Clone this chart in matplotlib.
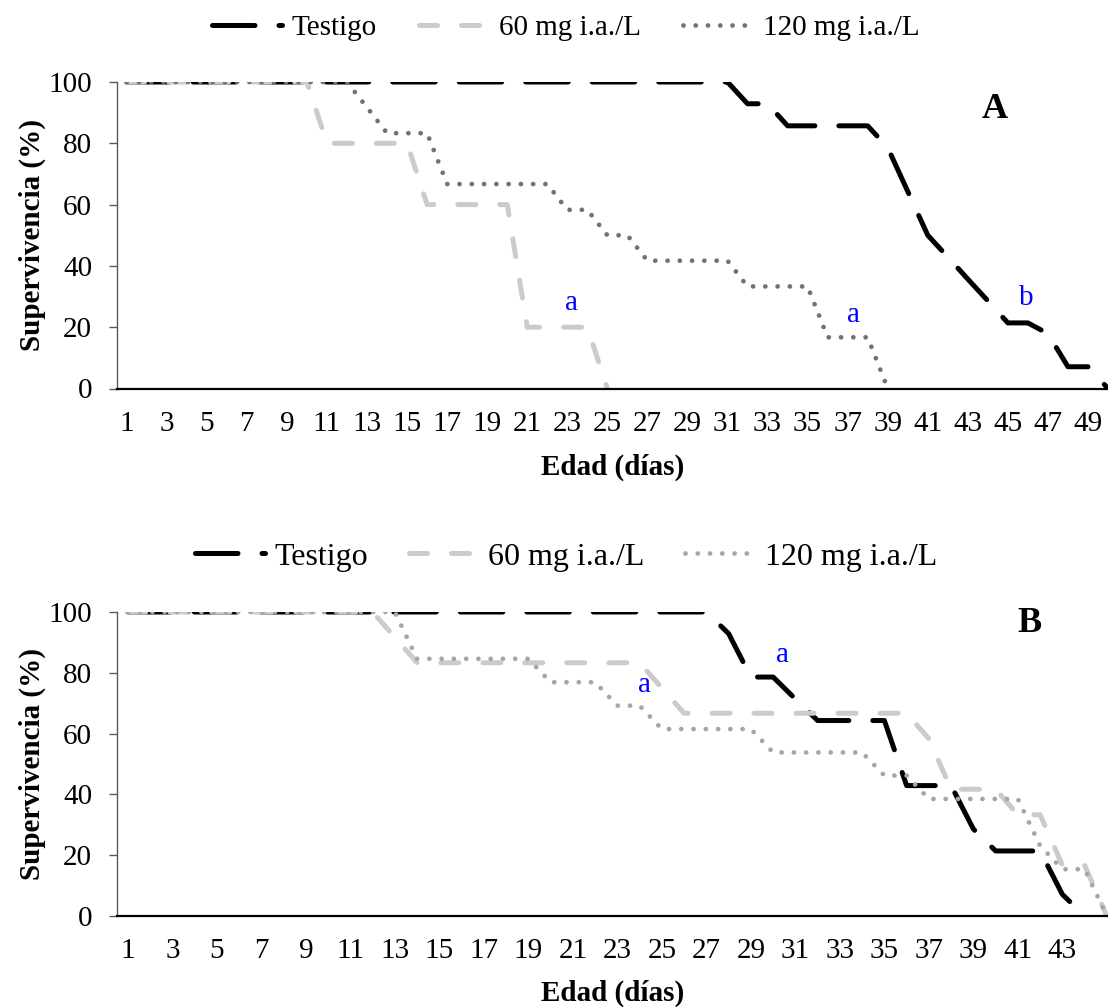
import matplotlib
matplotlib.use("Agg")
import matplotlib.pyplot as plt
from matplotlib.lines import Line2D

plt.rcParams['font.family'] = ['Liberation Serif', 'DejaVu Serif']
plt.rcParams['lines.scale_dashes'] = False

# ---------------- data ----------------
series_labels = ["Testigo", "60 mg i.a./L", "120 mg i.a./L"]

days_A = list(range(1, 51))
testigo_A = [100]*31 + [92.9, 92.9] + [85.7]*5 + [78.6, 64.3, 50.0, 42.9, 35.7, 28.6, 21.4, 21.4, 17.9, 7.1, 7.1, 0.0]
mg60_A = [100]*10 + [80]*5 + [60]*5 + [20]*4 + [0]
mg120_A = [100]*12 + [91.7] + [83.3]*3 + [66.7]*6 + [58.3]*2 + [50.0]*2 + [41.7]*5 + [33.3]*4 + [16.7]*3 + [0]

days_B = list(range(1, 46))
testigo_B = [100]*27 + [92.9] + [78.6]*2 + [71.4] + [64.3]*4 + [42.9]*3 + [28.6] + [21.4]*3 + [7.1, 0.0]
mg60_B = [100]*12 + [91.7] + [83.3]*11 + [75.0] + [66.7]*11 + [58.3] + [41.7]*3 + [33.3]*2 + [16.7]*2 + [0]
mg120_B = [100]*13 + [84.6]*6 + [76.9]*3 + [69.2]*2 + [61.5]*5 + [53.8]*5 + [46.2]*2 + [38.5]*5 + [23.1] + [15.4]*2 + [0]

xticks_A = list(range(1, 50, 2))
xticks_B = list(range(1, 44, 2))
yticks = [0, 20, 40, 60, 80, 100]

# ---------------- styling ----------------
W, H = 1108, 1007
fig = plt.figure(figsize=(W/100, H/100), dpi=100)
px = 0.72  # points per pixel

lw = 5.0*px
st_testigo = dict(color='black', lw=lw, dashes=(42.5*px, 24*px), dash_capstyle='round', solid_joinstyle='round')
st_60 = dict(color='#CBCBCB', lw=lw, dashes=(18*px, 24*px), dash_capstyle='round')
st_120A = dict(color='#767171', lw=4.8*px, dashes=(0.01, 12.25*px), dash_capstyle='round')
st_120B = dict(color='#A6A6A6', lw=4.8*px, dashes=(0.01, 12.25*px), dash_capstyle='round')

FS = 21

def setup(ax, xt, xmax, xlabel_y):
    ax.set_xlim(0.5, xmax)
    ax.set_ylim(0, 100)
    ax.set_xticks(xt)
    ax.set_xticklabels([str(v) for v in xt])
    ax.set_yticks(yticks)
    ax.spines['top'].set_visible(False)
    ax.spines['right'].set_visible(False)
    ax.spines['left'].set_color('#595959')
    ax.spines['left'].set_linewidth(1.0)
    ax.spines['bottom'].set_color('black')
    ax.spines['bottom'].set_linewidth(1.6)
    ax.tick_params(axis='y', direction='out', length=8*px, width=1.0, color='#595959',
                   labelsize=FS, pad=12)
    ax.tick_params(axis='x', length=0, labelsize=FS, pad=16)
    ax.set_ylabel("Supervivencia (%)", fontsize=FS, fontweight='bold')
    ax.yaxis.set_label_coords(-0.071, 0.5)
    ax.set_xlabel("Edad (días)", fontsize=FS, fontweight='bold', va='top')
    ax.xaxis.set_label_coords(0.5, xlabel_y)
    for lab in ax.get_xticklabels() + ax.get_yticklabels():
        lab.set_color('black')

l0 = 116.7/W
axA = fig.add_axes([l0, 1-388.5/H, 1-l0, (388.5-82)/H])
axB = fig.add_axes([l0, 1-916/H, 1-l0, (916-612)/H])

axA.plot(days_A[:len(testigo_A)], testigo_A, **st_testigo)
axA.plot(days_A[:len(mg60_A)], mg60_A, **st_60)
axA.plot(days_A[:len(mg120_A)], mg120_A, **st_120A)
setup(axA, xticks_A, 50.0, -0.214)

axB.plot(days_B[:len(testigo_B)], testigo_B, **st_testigo)
axB.plot(days_B[:len(mg60_B)], mg60_B, **st_60)
axB.plot(days_B[:len(mg120_B)], mg120_B, **st_120B)
setup(axB, xticks_B, 45.05, -0.211)

# annotations
blue = '#0000FF'
axA.text(23.2, 28, "a", color=blue, fontsize=FS, ha='center', va='center')
axA.text(37.3, 24, "a", color=blue, fontsize=FS, ha='center', va='center')
axA.text(45.9, 29.5, "b", color=blue, fontsize=FS, ha='center', va='center')
axA.text(44.35, 91, "A", color='black', fontsize=26, fontweight='bold', ha='center', va='center')

axB.text(30.4, 86, "a", color=blue, fontsize=FS, ha='center', va='center')
axB.text(24.2, 76, "a", color=blue, fontsize=FS, ha='center', va='center')
axB.text(41.5, 96.3, "B", color='black', fontsize=26, fontweight='bold', ha='center', va='center')

# legends
def legend(ax, st120, cx, cy, fs, colsp_px):
    fpx = fs/px
    handles = [Line2D([], [], **st_testigo), Line2D([], [], **st_60), Line2D([], [], **st120)]
    ax.legend(handles, series_labels, loc='center', bbox_to_anchor=(cx/W, cy),
              bbox_transform=fig.transFigure, ncol=3, frameon=False, fontsize=fs,
              handlelength=70/fpx, handletextpad=10/fpx, columnspacing=colsp_px/fpx,
              borderaxespad=0, borderpad=0)

legend(axA, st_120A, 565.5, 1-28/H, 21, 42)
legend(axB, st_120B, 566, 1-557/H, 23, 40)

fig.savefig("out.png", dpi=100)
